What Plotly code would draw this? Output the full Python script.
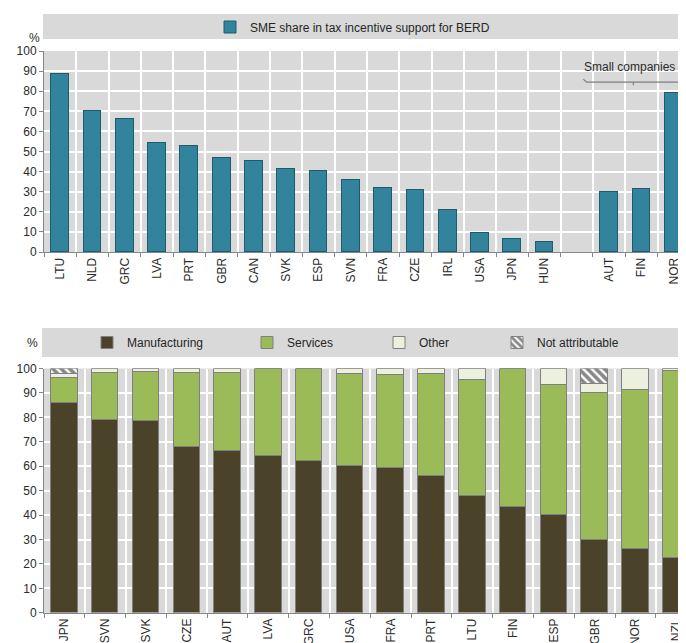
import plotly.graph_objects as go

# top panel: SME share in tax incentive support for BERD
top_countries = ['LTU', 'NLD', 'GRC', 'LVA', 'PRT', 'GBR', 'CAN', 'SVK', 'ESP', 'SVN',
                 'FRA', 'CZE', 'IRL', 'USA', 'JPN', 'HUN', ' ', 'AUT', 'FIN', 'NOR']
sme_share = [88.5, 70.3, 66.2, 54.0, 52.9, 46.9, 45.5, 41.5, 40.5, 35.6,
             31.6, 30.8, 20.9, 9.4, 6.4, 4.8, None, 29.8, 31.3, 79.0]

# bottom panel: breakdown by sector
bot_countries = ['JPN', 'SVN', 'SVK', 'CZE', 'AUT', 'LVA', 'GRC', 'USA',
                 'FRA', 'PRT', 'LTU', 'FIN', 'ESP', 'GBR', 'NOR', 'NZL']
manufacturing = [86.0, 79.2, 78.9, 68.2, 66.4, 64.2, 62.5, 60.3,
                 59.3, 56.2, 48.0, 43.6, 40.4, 29.9, 26.3, 22.8]
services = [10.5, 19.2, 19.9, 30.3, 32.0, 35.8, 37.5, 37.7,
            38.2, 41.8, 47.5, 56.4, 53.1, 60.1, 65.2, 76.2]
other = [1.5, 1.6, 1.2, 1.5, 1.6, 0, 0, 2.0,
         2.5, 2.0, 4.5, 0, 6.5, 4.0, 8.5, 1.0]
not_attrib = [2.0, 0, 0, 0, 0, 0, 0, 0,
              0, 0, 0, 0, 0, 6.0, 0, 0]

# the page body adds an 8px margin, so the figure is drawn 8px smaller
OFF = 8
W, H = 686 - OFF, 643 - OFF
GRAY = '#d9d9d9'
FONT = 'Liberation Sans, Arial, sans-serif'
TXT = '#2b2b2b'
EDGE = '#808080'


def px(x):
    return (x - OFF) / W


def py(y):
    return (H - (y - OFF)) / H


fig = go.Figure()

fig.add_trace(go.Bar(
    x=top_countries, y=sme_share, name='SME share in tax incentive support for BERD',
    marker=dict(color='#31849b', line=dict(color='#1f5c6b', width=1)),
    width=0.55, xaxis='x', yaxis='y', legend='legend', showlegend=True))

stack = [
    ('Manufacturing', manufacturing, dict(color='#4a4229'), 'legend2'),
    ('Services', services, dict(color='#9bbb59'), 'legend3'),
    ('Other', other, dict(color='#ebf1de'), 'legend4'),
    ('Not attributable', not_attrib,
     dict(color='#ffffff', pattern=dict(shape='\\', fgcolor='#111111', bgcolor='#ffffff',
                                        size=6, solidity=0.6)), 'legend5'),
]
for name, vals, mk, lg in stack:
    mk = dict(mk, line=dict(color=EDGE, width=1))
    fig.add_trace(go.Bar(x=bot_countries, y=vals, name=name, marker=mk, width=0.65,
                         xaxis='x2', yaxis='y2', legend=lg, showlegend=True))

axis_common = dict(
    showline=True, linecolor='#868686', linewidth=1, ticks='outside', ticklen=4,
    tickcolor='#868686', tickfont=dict(family=FONT, size=12, color=TXT),
    showgrid=True, gridcolor='white', gridwidth=1.5, zeroline=False, automargin=False,
    fixedrange=True,
)

legend_common = dict(orientation='h', bgcolor='rgba(0,0,0,0)', xanchor='left',
                     yanchor='middle', font=dict(family=FONT, size=12, color='#262626'),
                     itemclick=False, itemdoubleclick=False)

fig.update_layout(
    width=W, height=H,
    margin=dict(l=0, r=0, t=0, b=0),
    paper_bgcolor='white',
    showlegend=True,
    barmode='stack',
    bargap=0,
    font=dict(family=FONT, size=12, color=TXT),
    xaxis=dict(axis_common, domain=[px(44), 1], anchor='y', type='category',
               tickson='boundaries', tickangle=-90, range=[-0.5, 19.38]),
    yaxis=dict(axis_common, domain=[py(252), py(51)], anchor='x', range=[0, 100],
               dtick=10),
    xaxis2=dict(axis_common, domain=[px(44), 1], anchor='y2', type='category',
                tickson='boundaries', tickangle=-90, range=[-0.5, 15.24]),
    yaxis2=dict(axis_common, domain=[py(612.8), py(368.5)], anchor='x2', range=[0, 100],
                dtick=10),
    plot_bgcolor=GRAY,
    legend=dict(legend_common, x=px(210), y=py(27)),
    legend2=dict(legend_common, x=px(87), y=py(342.5)),
    legend3=dict(legend_common, x=px(247), y=py(342.5)),
    legend4=dict(legend_common, x=px(379), y=py(342.5)),
    legend5=dict(legend_common, x=px(497), y=py(342.5)),
    shapes=[
        # legend boxes
        dict(type='rect', xref='paper', yref='paper', x0=px(43), x1=1, y0=py(39), y1=py(14),
             fillcolor=GRAY, line=dict(width=0), layer='below'),
        dict(type='rect', xref='paper', yref='paper', x0=px(42), x1=1, y0=py(357), y1=py(328),
             fillcolor=GRAY, line=dict(width=0), layer='below'),
        # "Small companies" bracket
        dict(type='path', xref='x', yref='y',
             path='M 16.2,86 L 16.3,84.5 L 19.2,84.5 L 19.3,86',
             line=dict(color='#7f7f7f', width=1.2)),
        dict(type='line', xref='x', yref='y', x0=17.75, x1=17.75, y0=84.5, y1=83,
             line=dict(color='#7f7f7f', width=1.2)),
    ],
    annotations=[
        dict(text='%', xref='paper', yref='paper', x=px(27), y=py(29), showarrow=False,
             font=dict(family=FONT, size=12, color=TXT)),
        dict(text='%', xref='paper', yref='paper', x=px(25), y=py(343), showarrow=False,
             font=dict(family=FONT, size=12, color=TXT)),
        dict(text='Small companies', xref='x', yref='y', x=17.62, y=92.2, showarrow=False,
             font=dict(family=FONT, size=12, color=TXT)),
    ],
)

fig.write_html('out.html')
